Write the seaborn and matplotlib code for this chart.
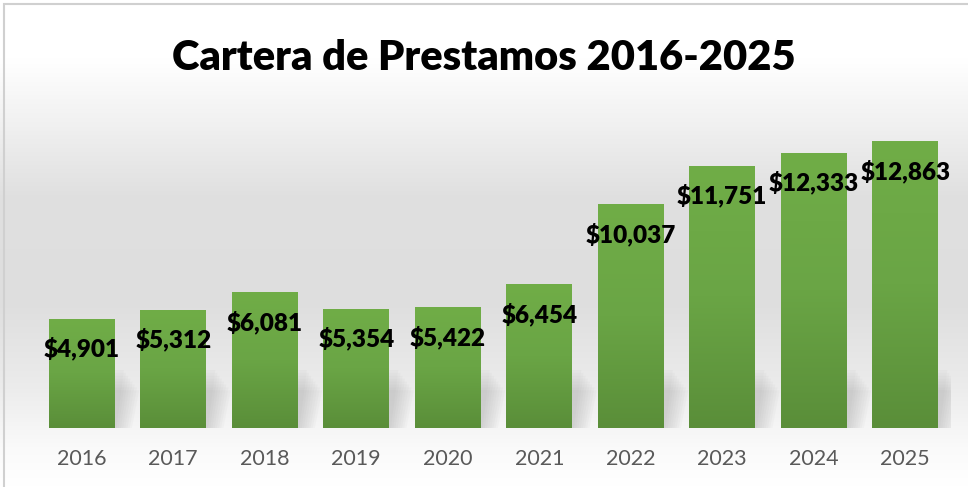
import numpy as np
import pandas as pd
import seaborn as sns
import matplotlib.pyplot as plt
from matplotlib.colors import LinearSegmentedColormap
from matplotlib.patches import Rectangle, Polygon

# =====================================
# DATA
# =====================================

years = ["2016", "2017", "2018", "2019", "2020",
         "2021", "2022", "2023", "2024", "2025"]
loans = [4901, 5312, 6081, 5354, 5422, 6454, 10037, 11751, 12333, 12863]
title = "Cartera de Prestamos 2016-2025"

df = pd.DataFrame({"year": years, "loans": loans})

# =====================================
# FIGURE + BACKGROUND
# =====================================

sns.set_style("white")
plt.rcParams["font.family"] = ["Lato", "DejaVu Sans"]

fig = plt.figure(figsize=(9.68, 4.87), dpi=100)

bg = fig.add_axes([0, 0, 1, 1], zorder=-10)
bg_cmap = LinearSegmentedColormap.from_list(
    "bg",
    [(0.0, "#ffffff"), (0.12, "#ffffff"), (0.25, "#f1f1f1"),
     (0.40, "#e0e0e0"), (0.62, "#dedede"), (0.80, "#ececec"),
     (0.92, "#fafafa"), (1.0, "#ffffff")]
)
bg.imshow(np.linspace(0, 1, 256).reshape(-1, 1), aspect="auto",
          cmap=bg_cmap, extent=[0, 1, 0, 1], origin="upper")
bg.add_patch(Rectangle((4 / 968, -0.1), 1.2, (487 - 4) / 487 + 0.1,
                       fill=False, edgecolor="#d0d0d0", lw=1.5))
bg.set_xlim(0, 1)
bg.set_ylim(0, 1)
bg.axis("off")

# =====================================
# BARS
# =====================================

ax = fig.add_axes([36 / 968, 59 / 487, 915 / 968, 312.3 / 487])
ax.patch.set_alpha(0)

sns.barplot(data=df, x="year", y="loans", color="#66a042",
            width=0.72, saturation=1, linewidth=0, ax=ax)

ax.set_xlim(-0.5, len(years) - 0.5)
ax.set_ylim(0, 14000)

# soft shadows at the base of each bar
for p in ax.patches:
    x0 = p.get_x()
    w = p.get_width()
    for k in range(8):
        off = 0.02 + k * 0.024
        h = 2600 - k * 130
        shadow = Polygon(
            [(x0 + w * 0.3, 0), (x0 + w + off, 0),
             (x0 + w + off + 0.08, h), (x0 + w * 0.3, h)],
            closed=True, facecolor="#8a8a8a", alpha=0.045,
            edgecolor="none", zorder=1)
        ax.add_patch(shadow)

# gradient fill on each bar
bar_cmap = LinearSegmentedColormap.from_list(
    "bar", ["#5a8e39", "#6aa545", "#70ad47"])
grad = np.linspace(0, 1, 256).reshape(-1, 1)
for p in ax.patches[:len(loans)]:
    x0, y0 = p.get_x(), p.get_y()
    w, h = p.get_width(), p.get_height()
    im = ax.imshow(grad, aspect="auto", cmap=bar_cmap, origin="lower",
                   extent=[x0, x0 + w, y0, y0 + h], zorder=2)
    im.set_clip_path(p)
    p.set_zorder(2)

ax.set_xlim(-0.5, len(years) - 0.5)
ax.set_ylim(0, 14000)

# value labels
for i, v in enumerate(loans):
    ax.annotate(f"${v:,}", (i, v), xytext=(0, -21.6),
                textcoords="offset points", ha="center", va="center",
                fontsize=17.5, fontweight="heavy", color="black", zorder=5)

ax.set_xlabel("")
ax.set_ylabel("")
ax.set_yticks([])
ax.tick_params(axis="x", length=0, pad=15, labelsize=15.5,
               labelcolor="#595959")
sns.despine(ax=ax, left=True, bottom=True)

fig.text(484 / 968, 1 - 58 / 487, title, ha="center", va="center",
         fontsize=30, fontweight="heavy", color="black")

fig.savefig("out.png", dpi=100)
